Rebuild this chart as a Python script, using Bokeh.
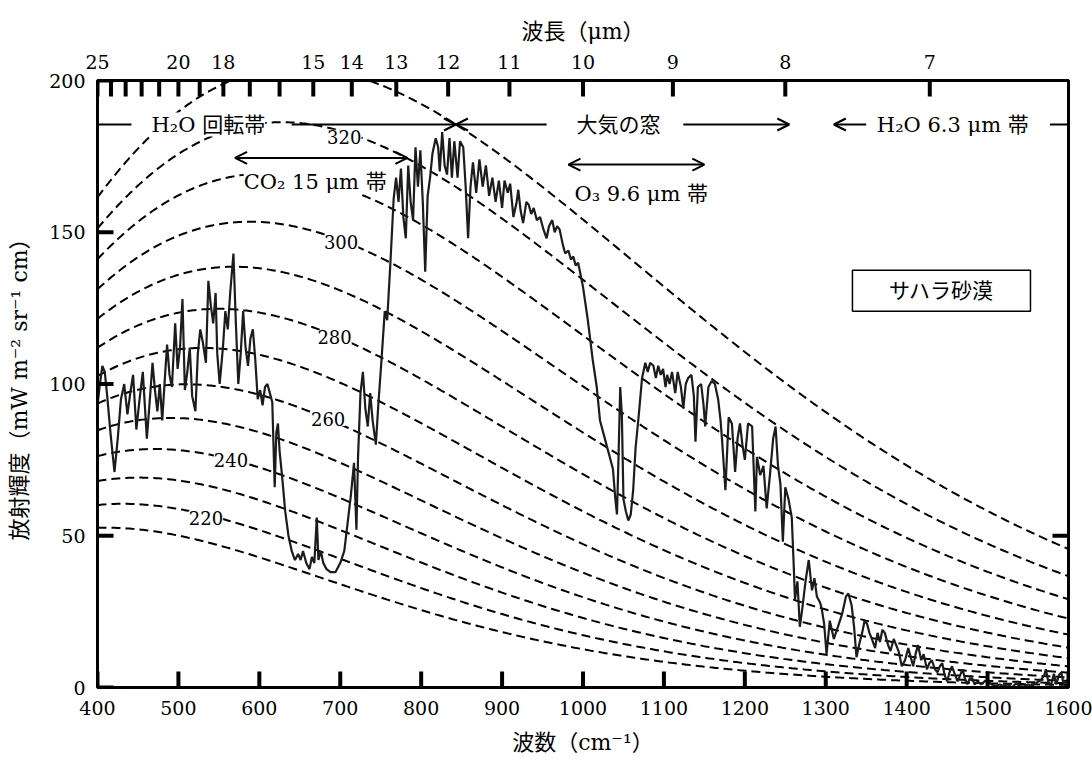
import numpy as np
from bokeh.plotting import figure
from bokeh.models import (Range1d, LinearAxis, FixedTicker, CustomJSTickFormatter,
                          Label, Arrow, OpenHead, BoxAnnotation)
from bokeh.embed import file_html
from bokeh.resources import INLINE

# ---------------- data ----------------
wavenumber = [400, 403, 406, 409, 412, 416, 421, 425, 429, 433, 437, 441, 444, 448, 452, 456,
              461, 465, 468, 471, 474, 477, 480, 484, 486, 489, 492, 496, 499, 502, 505, 508,
              511, 514, 517, 521, 524, 527, 530, 534, 537, 540, 543, 546, 548, 551, 555, 558,
              561, 564, 568, 571, 574, 577, 580, 583, 586, 589, 592, 595, 598, 601, 604, 607,
              610, 613, 616, 619, 621, 623, 625, 628, 632, 636, 640, 644, 648, 651, 654, 658,
              662, 665, 668, 671, 673, 676, 679, 683, 688, 694, 700, 705, 709, 713, 717, 720,
              722, 725, 728, 731, 734, 737, 740, 744, 747, 751, 755, 758, 762, 766, 769, 772,
              775, 778, 781, 784, 787, 790, 793, 796, 799, 802, 805, 808, 811, 814, 818, 821,
              823, 826, 829, 832, 835, 838, 841, 845, 848, 852, 855, 858, 861, 864, 868, 872,
              876, 880, 884, 888, 892, 896, 900, 903, 907, 910, 914, 918, 920, 923, 926, 930,
              933, 936, 939, 943, 947, 951, 955, 958, 962, 965, 968, 971, 975, 978, 982, 985,
              988, 991, 994, 997, 1000, 1006, 1012, 1017, 1021, 1027, 1033, 1037, 1040, 1042, 1044, 1046,
              1048, 1050, 1053, 1056, 1059, 1062, 1065, 1069, 1073, 1077, 1080, 1083, 1087, 1090, 1093, 1096,
              1099, 1102, 1104, 1107, 1110, 1114, 1117, 1121, 1124, 1127, 1130, 1134, 1137, 1139, 1142, 1146,
              1149, 1151, 1155, 1159, 1163, 1167, 1170, 1172, 1176, 1180, 1184, 1188, 1191, 1194, 1197, 1200,
              1204, 1209, 1213, 1215, 1219, 1223, 1227, 1231, 1235, 1238, 1241, 1244, 1247, 1250, 1254, 1258,
              1260, 1262, 1265, 1268, 1271, 1275, 1279, 1283, 1286, 1289, 1293, 1295, 1298, 1301, 1305, 1310,
              1315, 1320, 1325, 1328, 1332, 1335, 1338, 1342, 1345, 1348, 1351, 1354, 1357, 1361, 1364, 1367,
              1370, 1373, 1377, 1380, 1384, 1387, 1390, 1394, 1398, 1402, 1405, 1408, 1411, 1414, 1418, 1421,
              1425, 1428, 1431, 1435, 1438, 1441, 1444, 1447, 1450, 1453, 1456, 1460, 1463, 1466, 1469, 1472,
              1475, 1478, 1481, 1484, 1488, 1492, 1496, 1500, 1505, 1510, 1515, 1520, 1525, 1530, 1535, 1540,
              1545, 1550, 1555, 1560, 1566, 1570, 1572, 1575, 1578, 1582, 1585, 1588, 1591, 1594, 1597, 1600]

radiance = [93, 100, 106, 104, 96, 84, 71, 82, 95, 100, 90, 98, 103, 85, 95, 104,
            82, 96, 107, 98, 91, 100, 88, 105, 113, 103, 99, 120, 105, 112, 128, 98,
            104, 112, 96, 91, 110, 118, 114, 107, 134, 126, 120, 130, 110, 100, 112, 124,
            118, 130, 143, 120, 100, 110, 124, 112, 106, 115, 118, 108, 95, 98, 93, 99,
            100, 97, 94, 66, 84, 87, 78, 70, 58, 50, 45, 42, 44, 42, 45, 41,
            39, 43, 41, 56, 42, 45, 41, 39, 38, 38, 41, 45, 54, 63, 74, 52,
            76, 97, 104, 92, 86, 97, 88, 80, 93, 108, 124, 121, 140, 161, 168, 160,
            171, 155, 148, 172, 160, 154, 178, 165, 177, 160, 137, 162, 168, 176, 181, 178,
            170, 183, 172, 169, 181, 168, 180, 168, 180, 178, 165, 148, 165, 173, 163, 174,
            165, 172, 162, 168, 160, 167, 158, 167, 163, 166, 155, 160, 164, 157, 153, 160,
            159, 156, 158, 154, 155, 151, 148, 152, 154, 150, 152, 151, 146, 143, 144, 141,
            142, 139, 140, 136, 132, 121, 108, 99, 88, 82, 76, 72, 62, 57, 77, 99,
            90, 62, 58, 55, 57, 65, 79, 90, 102, 107, 104, 107, 106, 102, 106, 103,
            105, 99, 103, 100, 104, 97, 104, 99, 92, 100, 102, 103, 96, 81, 99, 100,
            93, 86, 99, 101, 100, 95, 88, 81, 65, 89, 87, 71, 82, 87, 80, 75,
            87, 86, 58, 76, 70, 73, 59, 70, 82, 86, 73, 67, 48, 66, 62, 56,
            43, 29, 35, 20, 26, 35, 42, 32, 36, 30, 28, 26, 21, 11, 22, 16,
            20, 24, 30, 31, 27, 20, 10, 15, 18, 22, 21, 18, 16, 13, 18, 15,
            19, 18, 14, 12, 16, 14, 12, 7, 9, 13, 10, 7, 11, 14, 9, 11,
            6, 8, 9, 6, 5, 7, 8, 4, 2, 5, 7, 4, 2, 4, 6, 3,
            1, 3, 3, 1, 2, 1, 2, 2, 1, 0.5, 1, 0.5, 1, 0, 1.3, 0.5,
            0.3, 1, 0.5, 1.5, 2.5, 4, 6, 2, 0.5, 4.5, 1, 4, 5, 1, 2, 1]

temperatures = [210, 220, 230, 240, 250, 260, 270, 280, 290, 300, 310, 320, 330]
curve_label_texts = ["220", "240", "260", "280", "300", "320"]
curve_label_x = [534, 565, 685, 693, 701, 705]
curve_label_y = [56, 75, 88.5, 115.5, 146.8, 181.5]

wavelength_labeled = [25, 20, 18, 15, 14, 13, 12, 11, 10, 9, 8, 7]
wavelength_unlabeled = [24, 23, 22, 21, 19, 17, 16]
x_ticks = [400, 500, 600, 700, 800, 900, 1000, 1100, 1200, 1300, 1400, 1500, 1600]
y_ticks = [0, 50, 100, 150, 200]
y_ticks_right = [50]

X0, X1, Y0, Y1 = 400, 1600, 0, 200

# Planck radiance (mW m-2 sr-1 cm) for the reference temperatures
C1 = 1.191042e-5
C2 = 1.4387752
nu_grid = np.arange(400.0, 1600.5, 2.0)

SERIF = "DejaVu Serif, Noto Sans CJK JP"
FS = "19px"

FRAME_W, FRAME_H = 971, 607
p = figure(width=1092, height=769, x_range=Range1d(X0, X1), y_range=Range1d(Y0, Y1),
           output_backend="svg", toolbar_location=None,
           min_border_left=97, min_border_right=24, min_border_top=80, min_border_bottom=82,
           background_fill_color="white", border_fill_color="white")
p.xgrid.visible = False
p.ygrid.visible = False
p.outline_line_color = "black"
p.outline_line_width = 3
p.outline_line_alpha = 1

# dashed blackbody curves
for T in temperatures:
    B = C1 * nu_grid ** 3 / np.expm1(C2 * nu_grid / T)
    p.line(nu_grid, B, line_color="black", line_width=2, line_dash="9 5")

# observed spectrum
p.line(wavenumber, radiance, line_color="#1c1c1c", line_width=2.2)

# inward tick marks drawn as small filled bars (16 px long, 4 px wide)
tick_len, tick_w = 16, 4
dx_len = tick_len * (X1 - X0) / FRAME_W
dy_len = tick_len * (Y1 - Y0) / FRAME_H
dx_w = tick_w * (X1 - X0) / FRAME_W
dy_w = tick_w * (Y1 - Y0) / FRAME_H
top_ticks = sorted(1e4 / w for w in wavelength_labeled + wavelength_unlabeled)
xb = np.array(x_ticks, dtype=float)
xt = np.array(top_ticks, dtype=float)
yl = np.array(y_ticks, dtype=float)
yr = np.array(y_ticks_right, dtype=float)
p.quad(left=xb - dx_w / 2, right=xb + dx_w / 2, bottom=Y0, top=Y0 + dy_len,
       fill_color="black", line_color=None)
p.quad(left=xt - dx_w / 2, right=xt + dx_w / 2, bottom=Y1 - dy_len, top=Y1,
       fill_color="black", line_color=None)
p.quad(left=X0, right=X0 + dx_len, bottom=yl - dy_w / 2, top=yl + dy_w / 2,
       fill_color="black", line_color=None)
p.quad(left=X1 - dx_len, right=X1, bottom=yr - dy_w / 2, top=yr + dy_w / 2,
       fill_color="black", line_color=None)

def style_axis(ax):
    ax.axis_line_width = 3
    ax.axis_line_color = "black"
    ax.major_tick_line_color = None
    ax.major_tick_in = 0
    ax.major_tick_out = 0
    ax.minor_tick_in = 0
    ax.minor_tick_out = 0
    ax.minor_tick_line_color = None
    ax.major_label_text_font = SERIF
    ax.major_label_text_font_size = FS
    ax.major_label_text_color = "black"
    ax.axis_label_text_font = SERIF
    ax.axis_label_text_font_size = "22px"
    ax.axis_label_text_font_style = "normal"
    ax.axis_label_text_color = "black"

xa = p.xaxis[0]
xa.ticker = FixedTicker(ticks=x_ticks)
xa.axis_label = "波数（cm⁻¹）"
style_axis(xa)
xa.major_label_standoff = 13
xa.axis_label_standoff = 12

ya = p.yaxis[0]
ya.ticker = FixedTicker(ticks=y_ticks)
ya.axis_label = "放射輝度（mW m⁻² sr⁻¹ cm）"
style_axis(ya)
ya.major_label_standoff = 12
ya.axis_label_standoff = 14

labeled_js = ",".join(str(w) for w in wavelength_labeled)
top = LinearAxis(ticker=FixedTicker(ticks=top_ticks),
                 formatter=CustomJSTickFormatter(code=(
                     "const w = Math.round(10000 / tick);"
                     "return [" + labeled_js + "].includes(w) ? String(w) : '';")),
                 axis_label="波長（μm）")
style_axis(top)
top.major_label_standoff = 12
top.axis_label_standoff = 8
p.add_layout(top, "above")

# curve temperature labels
for t, lx, ly in zip(curve_label_texts, curve_label_x, curve_label_y):
    p.add_layout(Label(x=lx, y=ly, text=t, text_align="center", text_baseline="middle",
                       text_font=SERIF, text_font_size="18px", background_fill_color="white",
                       text_color="black"))

def head():
    return OpenHead(size=12, line_width=2, line_color="black")

def arrow(x0, y0, x1, y1, start=False, end=True):
    p.add_layout(Arrow(x_start=x0, y_start=y0, x_end=x1, y_end=y1, line_width=2,
                       line_color="black", start=head() if start else None,
                       end=head() if end else None))

def text(x, y, s, size="21px"):
    p.add_layout(Label(x=x, y=y, text=s, text_align="center", text_baseline="middle",
                       text_font=SERIF, text_font_size=size, background_fill_color="white",
                       text_color="black"))

# band annotations
YB = 185.5
arrow(400, YB, 442, YB, end=False)
text(537, YB, "H₂O 回転帯")
arrow(640, YB, 843, YB)
arrow(955, YB, 843, YB)
text(1044, YB, "大気の窓")
arrow(1124, YB, 1255, YB)
arrow(1350, YB, 1310, YB)
text(1457, YB, "H₂O 6.3 μm 帯")
arrow(1577, YB, 1600, YB, end=False)

arrow(570, 174.5, 783, 174.5, start=True)
text(669, 166.5, "CO₂ 15 μm 帯")
arrow(982, 172.3, 1150, 172.3, start=True)
text(1072, 162.5, "O₃ 9.6 μm 帯")

p.add_layout(BoxAnnotation(left=1333, right=1553, bottom=124, top=137.5,
                           fill_color="white", fill_alpha=1, line_color="black",
                           line_width=1.5, line_alpha=1))
text(1443, 130.8, "サハラ砂漠")

open("out.html", "w").write(file_html(p, INLINE))
